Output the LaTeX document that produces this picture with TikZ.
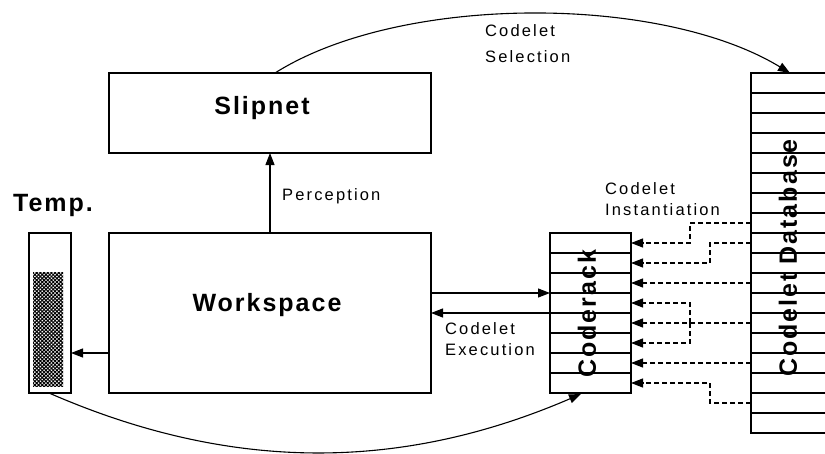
\documentclass[tikz,border=0pt]{standalone}
\usepackage{fontspec}
\setmainfont{Liberation Sans}
\newfontfamily\smallfont[LetterSpace=13]{Liberation Sans}
\newfontfamily\bigfont[LetterSpace=8]{Liberation Sans}
\usetikzlibrary{arrows.meta,patterns.meta,calc}

\begin{document}
\begin{tikzpicture}[x=1pt,y=-1pt,
  box/.style={draw, line width=1.2pt, rectangle, inner sep=0pt, outer sep=0pt},
  rule/.style={line width=1.2pt},
  arr/.style={line width=1.1pt, -{Triangle[length=12pt,width=9pt]}},
  dl/.style={arr, dash pattern=on 5pt off 3pt},
  small/.style={font=\smallfont\fontsize{16.5}{21}\selectfont, inner sep=0pt, align=left},
  big/.style={font=\bigfont\bfseries\fontsize{25}{30}\selectfont, inner sep=0pt}]
\useasboundingbox (0,0) rectangle (825,453);
\clip (0,0) rectangle (825,453);

% main boxes
\node[box, minimum width=322pt, minimum height=80pt]  (sn) at (270,113) {};
\node[box, minimum width=322pt, minimum height=160pt] (ws) at (270,313) {};
\node[box, minimum width=42pt,  minimum height=160pt] (tp) at (50,313) {};
\node[box, minimum width=81pt,  minimum height=160pt] (cr) at (590.5,313) {};
\node[box, minimum width=90pt,  minimum height=360pt] (db) at (796,253) {};

% temperature gauge filling
\fill[pattern={Hatch[angle=45,distance=2.6pt,line width=1pt]}, pattern color=black]
  (33,272) rectangle (63,386);

% slots of the coderack and of the database
\foreach \k in {1,...,7}
  \draw[rule] ($(cr.north west)+(0,20*\k)$) -- ($(cr.north east)+(0,20*\k)$);
\foreach \k in {1,...,17}
  \draw[rule] ($(db.north west)+(0,20*\k)$) -- ($(db.north east)+(0,20*\k)$);

% labels
\node[big] (tSlip) at (262,108) {Slipnet};
\node[big] (tWork) at (267,305) {Workspace};
\node[big] (tTemp) at (53,205) {Temp.};
\node[big, rotate=90] (tRack) at (587,314) {Coderack};
\node[big, rotate=90] (tBase) at (788,258) {Codelet Database};

\node[small, anchor=west] (lPerc) at (282,196) {Perception};
\node[small, anchor=north west] (lSel) at (485,24) {Codelet\\[5pt]Selection};
\node[small, anchor=north west] (lInst) at (605,182) {Codelet\\Instantiation};
\node[small, anchor=north west] (lExec) at (445,322) {Codelet\\Execution};

% flows between the modules
\draw[arr] (ws.north) -- (sn.south);
\draw[arr] ($(ws.east)+(0,-20)$) -- ($(cr.west)+(0,-20)$);
\draw[arr] (cr.west) -- (ws.east);
\draw[arr] ($(ws.west)+(0,40)$) -- ($(tp.east)+(0,40)$);

\draw[arr] ($(sn.north)+(5,0)$) .. controls (400,-6) and (660,-6) .. ($(db.north west)+(39,0)$);
\draw[arr] ($(tp.south)+(-1,0)$) .. controls (230,472) and (400,472) .. ($(cr.south)+(-9.5,1)$);

% codelet instantiation: database slots to coderack slots
\foreach \k in {1,...,8}
  \coordinate (r\k) at ($(cr.north east)+(0,20*\k-10)$);
\draw[dl] ($(db.north west)+(0,150)$) -| ($(r1)+(59,0)$) -- (r1);
\draw[dl] ($(db.north west)+(0,170)$) -| ($(r2)+(79,0)$) -- (r2);
\draw[dl] ($(db.north west)+(0,210)$) -- (r3);
\draw[dl] ($(db.north west)+(0,250)$) -- (r5);
\draw[dl] ($(r5)+(59,0)$) |- (r4);
\draw[dl] ($(r5)+(59,0)$) |- (r6);
\draw[dl] ($(db.north west)+(0,290)$) -- (r7);
\draw[dl] ($(db.north west)+(0,330)$) -| ($(r8)+(79,0)$) -- (r8);
\end{tikzpicture}
\end{document}
